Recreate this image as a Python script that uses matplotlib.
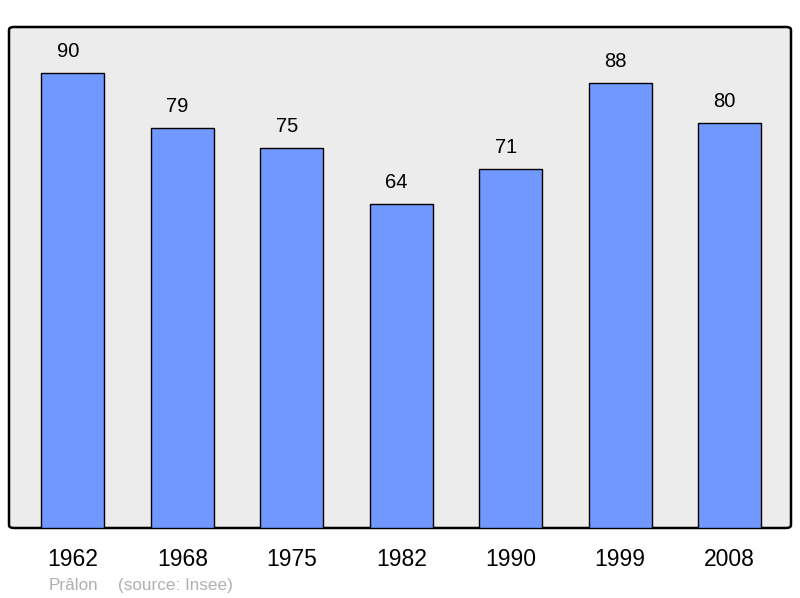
import matplotlib
matplotlib.use("Agg")
import matplotlib.pyplot as plt
from matplotlib.patches import FancyBboxPatch

years = ["1962", "1968", "1975", "1982", "1990", "1999", "2008"]
population = [90, 79, 75, 64, 71, 88, 80]

plt.rcParams["font.family"] = ["Liberation Sans", "DejaVu Sans"]

fig = plt.figure(figsize=(8, 5.98), dpi=100)
ax = fig.add_axes([9 / 800, 70 / 598, 782 / 800, 501 / 598])
ax.patch.set_visible(False)
for s in ax.spines.values():
    s.set_visible(False)

# rounded frame with grey background
frame = FancyBboxPatch((0, 0), 1, 1, boxstyle="round,pad=0,rounding_size=0.006",
                       transform=ax.transAxes, facecolor="#ececec",
                       edgecolor="black", linewidth=1.8, zorder=0, clip_on=False)
ax.add_patch(frame)

x = range(len(years))
ax.bar(x, population, width=0.575, color="#7098ff", edgecolor="black",
       linewidth=1.0, zorder=2)

for i, v in zip(x, population):
    ax.annotate(str(v), (i, v), xytext=(-3.6, 15.5), textcoords="offset points",
                ha="center", va="center", fontsize=14.5)

ax.set_xlim(-0.584, 6.56)
ax.set_ylim(0, 99)
ax.set_xticks(list(x))
ax.set_xticklabels(years, fontsize=16.5)
ax.tick_params(axis="x", length=0, pad=14.5)
ax.set_yticks([])

fig.text(49 / 800, 1 - 585.5 / 598, "Prâlon", color="#b0b0b0", fontsize=12.3,
         va="center", ha="left")
fig.text(118 / 800, 1 - 585.5 / 598, "(source: Insee)", color="#b0b0b0",
         fontsize=12.3, va="center", ha="left")

fig.savefig("out.png", dpi=100)
